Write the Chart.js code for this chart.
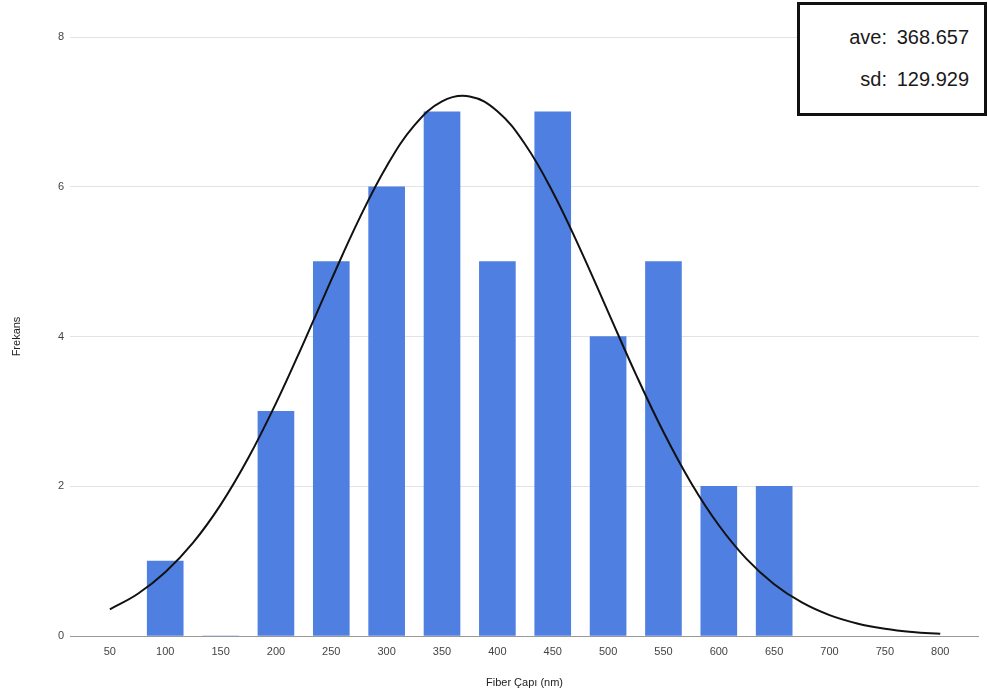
<!DOCTYPE html>
<html>
<head>
<meta charset="utf-8">
<script src="https://cdn.jsdelivr.net/npm/chart.js@4/dist/chart.umd.min.js"></script>
<style>
  html, body { margin: 0; padding: 0; background: #fff; }
  #wrap { position: relative; width: 988px; height: 700px; }
  #stats {
    position: absolute; left: 797px; top: 2px; width: 184px; height: 108px;
    border: 3px solid #111; background: #fff; box-sizing: content-box;
    font-family: "Liberation Sans", Arial, sans-serif; font-size: 20px; color: #1a1a1a;
  }
  #stats .row { position: absolute; right: 15px; white-space: nowrap; }
  #stats .k { display: inline-block; text-align: right; }
  #stats .v { display: inline-block; width: 82px; text-align: right; }
</style>
</head>
<body>
<div id="wrap">
  <canvas id="c" width="988" height="700"></canvas>
  <div id="stats">
    <div class="row" style="top:21px"><span class="k">ave:</span><span class="v">368.657</span></div>
    <div class="row" style="top:63px"><span class="k">sd:</span><span class="v">129.929</span></div>
  </div>
</div>
<script>
// Histogram bins (bin centre, nm) and counts
const binCentres = [100, 150, 200, 250, 300, 350, 400, 450, 500, 550, 600, 650];
const binCounts  = [1, 0, 3, 5, 6, 7, 5, 7, 4, 5, 2, 2];

// Fitted normal curve, sampled every 25 nm
const curveX = [50, 75, 100, 125, 150, 175, 200, 225, 250, 275, 300, 325, 350, 375,
                400, 425, 450, 475, 500, 525, 550, 575, 600, 625, 650, 675, 700, 725, 750, 775, 800];
const curveY = [0.357, 0.561, 0.851, 1.243, 1.751, 2.376, 3.107, 3.916, 4.755, 5.564, 6.275, 6.819, 7.141, 7.206,
                7.008, 6.568, 5.931, 5.161, 4.329, 3.498, 2.724, 2.044, 1.479, 1.030, 0.692, 0.448, 0.279, 0.168, 0.097, 0.054, 0.029];

// Axis tick labels
const xTicks = [50, 100, 150, 200, 250, 300, 350, 400, 450, 500, 550, 600, 650, 700, 750, 800];
const yTicks = [0, 2, 4, 6, 8];

const tickFont = { family: "'Liberation Sans', Arial, sans-serif", size: 11 };

new Chart(document.getElementById('c'), {
  data: {
    datasets: [
      {
        type: 'line',
        data: curveX.map((x, i) => ({ x: x, y: curveY[i] })),
        borderColor: '#111',
        borderWidth: 2,
        pointRadius: 0,
        tension: 0.4,
        fill: false,
        order: 0
      },
      {
        type: 'bar',
        data: binCentres.map((x, i) => ({ x: x, y: binCounts[i] })),
        backgroundColor: '#4f80e1',
        barThickness: 36,
        order: 1
      }
    ]
  },
  options: {
    responsive: false,
    animation: false,
    layout: { padding: { top: 37, right: 9, left: 0, bottom: 0 } },
    plugins: { legend: { display: false }, tooltip: { enabled: false } },
    scales: {
      x: {
        type: 'linear',
        min: 14,
        max: 835,
        offset: false,
        afterBuildTicks: s => { s.ticks = xTicks.map(v => ({ value: v })); },
        afterFit: s => { s.height = 64; },
        grid: { display: false, drawTicks: false },
        border: { display: false },
        ticks: { font: tickFont, color: '#444', padding: 9, maxRotation: 0, autoSkip: false },
        title: {
          display: true, text: 'Fiber Çapı (nm)', color: '#222',
          font: tickFont, padding: { top: 0, bottom: 10 }
        }
      },
      y: {
        min: 0,
        max: 8,
        afterBuildTicks: s => { s.ticks = yTicks.map(v => ({ value: v })); },
        afterFit: s => { s.width = 70; },
        grid: {
          drawTicks: false,
          color: ctx => ctx.tick && ctx.tick.value === 0 ? '#999' : '#e3e3e3',
          lineWidth: 1
        },
        border: { display: false },
        ticks: { font: tickFont, color: '#444', padding: 6 },
        title: {
          display: true, text: 'Frekans', color: '#222',
          font: tickFont, padding: { top: 10, bottom: 0 }
        }
      }
    }
  }
});
</script>
</body>
</html>
